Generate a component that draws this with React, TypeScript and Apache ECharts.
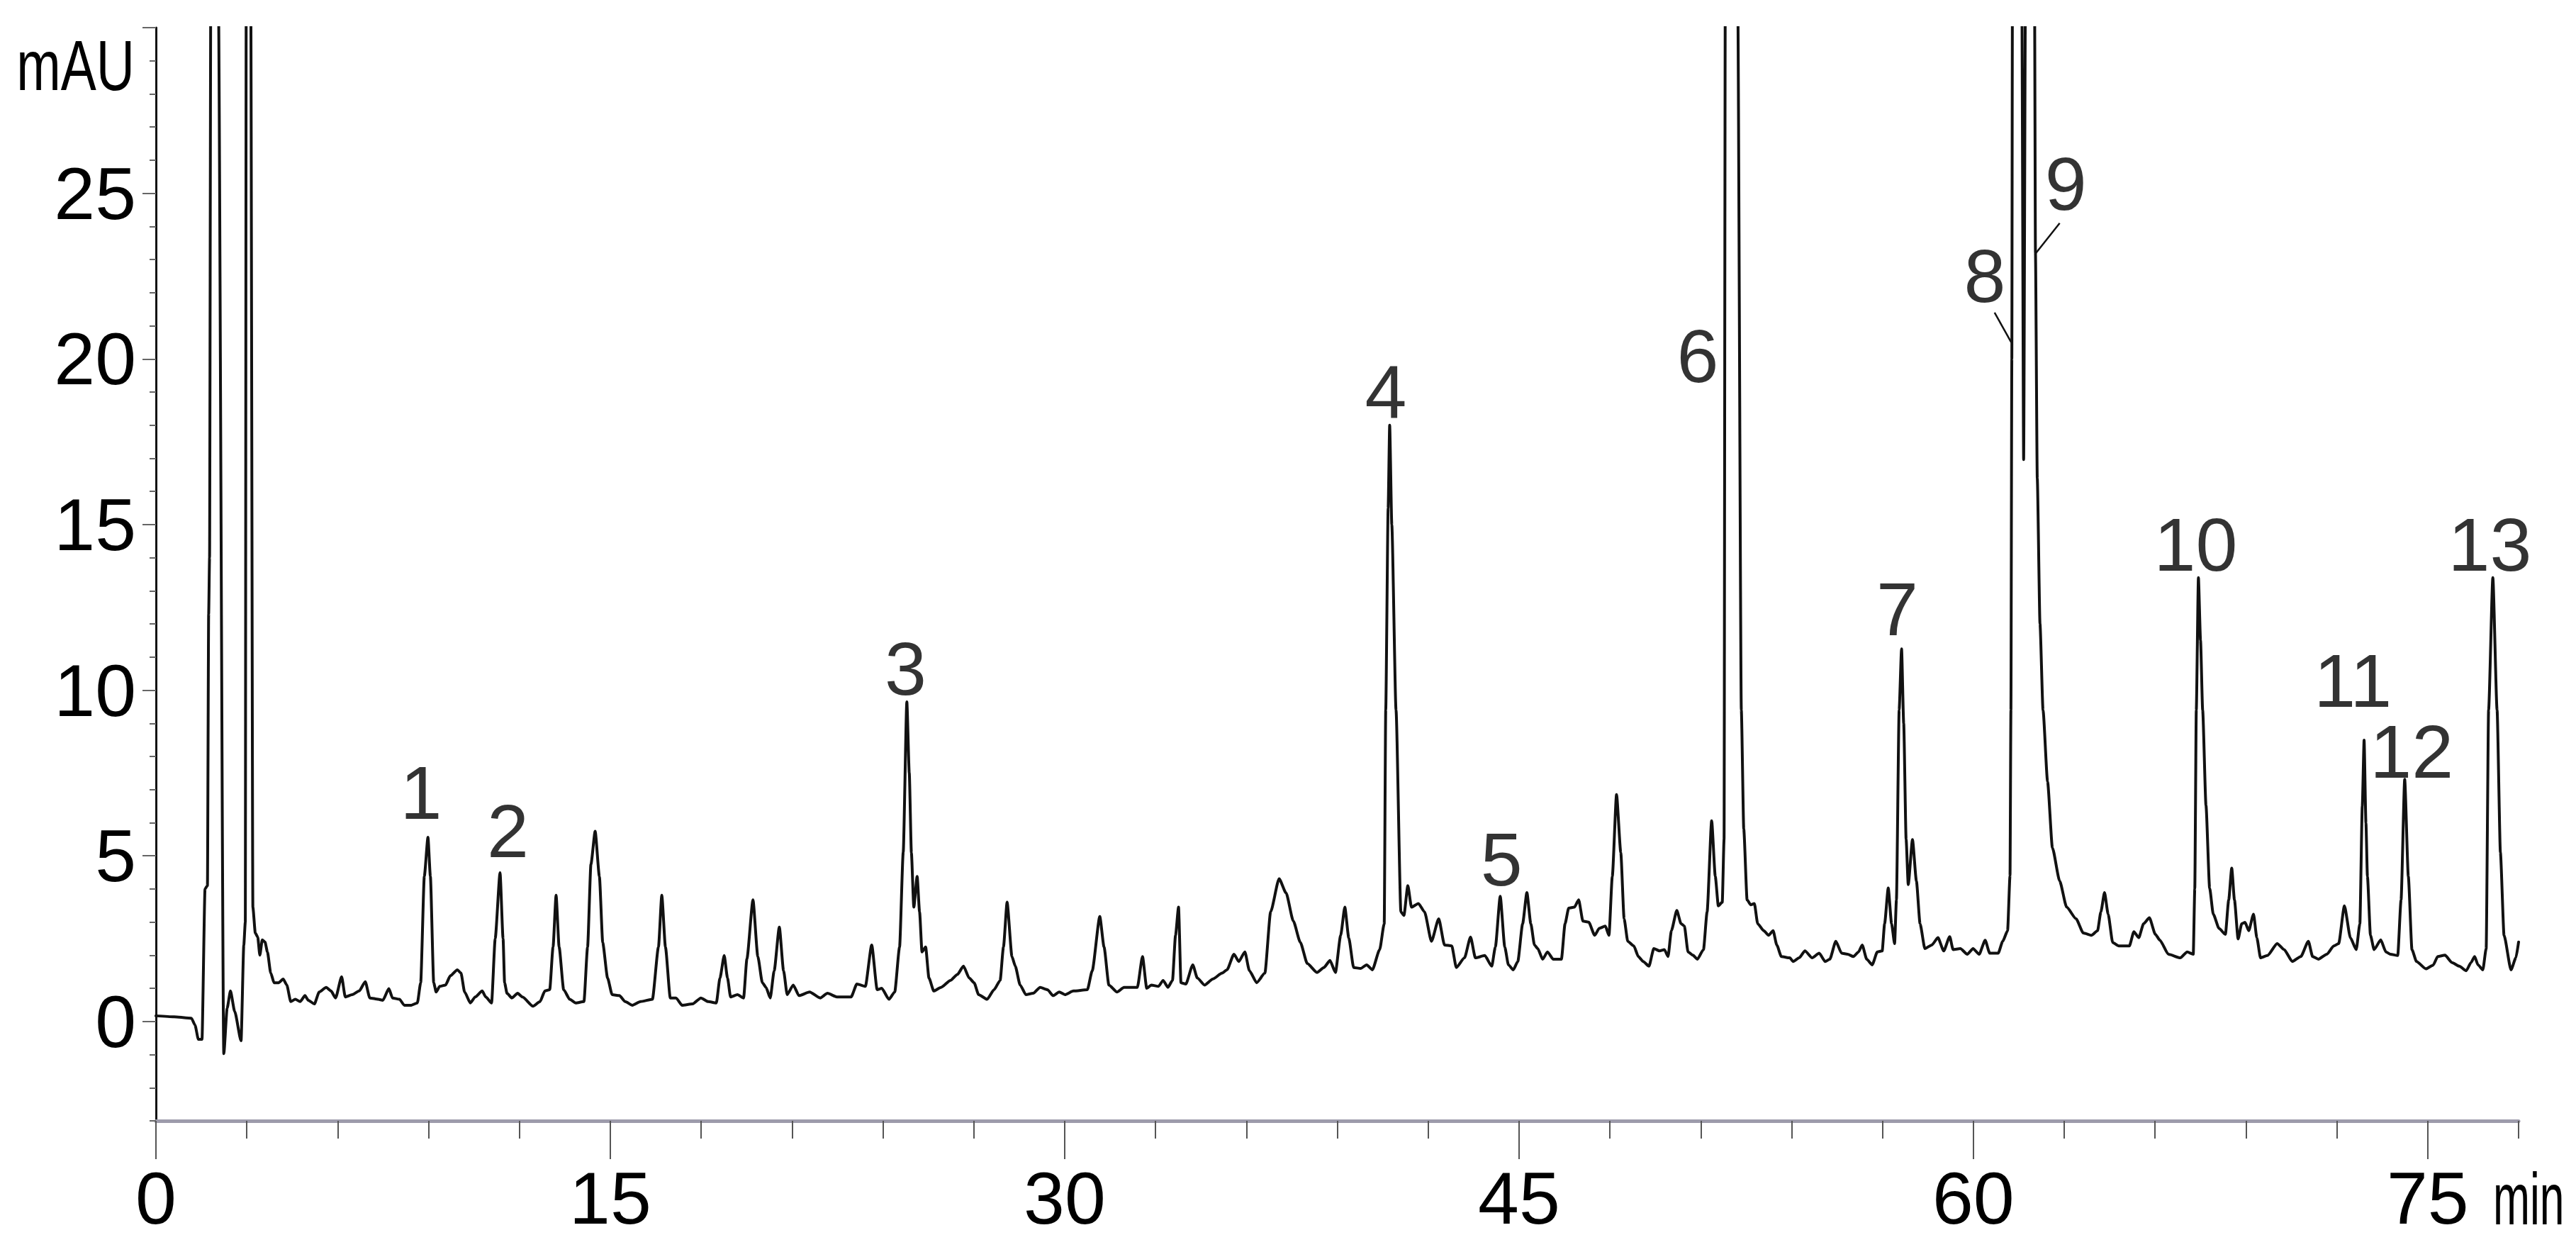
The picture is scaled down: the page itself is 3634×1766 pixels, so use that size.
import React, { useEffect, useRef } from "react";
import * as echarts from "echarts";

// ---- Chromatogram trace: [time (min), absorbance (mAU)] ----
const traceSolvent: [number, number][] = [
  [0, 0.17], [0.6, 0.14], [1.17, 0.1], [1.29, -0.11], [1.4, -0.54], [1.52, -0.54],
  [1.62, 4.0], [1.7, 4.1], [1.74, 12.3], [1.77, 14.0], [1.81, 31], [1.93, 75], [2.06, 31],
  [2.24, -0.97], [2.35, 0.4], [2.46, 0.92], [2.6, 0.3], [2.81, -0.58], [2.9, 2.3], [2.95, 3.0],
  [2.98, 31], [3.05, 60], [3.13, 31], [3.2, 3.45], [3.28, 2.67], [3.36, 2.55], [3.43, 2.0],
  [3.51, 2.46], [3.6, 2.4], [3.68, 2.1], [3.79, 1.46], [3.9, 1.17], [4.05, 1.17], [4.2, 1.28],
  [4.32, 1.1], [4.45, 0.6], [4.6, 0.67], [4.76, 0.6], [4.92, 0.78], [5.03, 0.64], [5.23, 0.53],
  [5.39, 0.89], [5.62, 1.03], [5.78, 0.92], [5.93, 0.71], [6.13, 1.35], [6.25, 0.74], [6.48, 0.81],
  [6.71, 0.92], [6.91, 1.2], [7.06, 0.71], [7.34, 0.67], [7.49, 0.64], [7.69, 0.99], [7.81, 0.71],
  [8.04, 0.67], [8.2, 0.49], [8.43, 0.49], [8.63, 0.56],
];

const trace9to23: [number, number][] = [
  [8.74, 1.17], [8.86, 4.38], [8.98, 5.56], [9.06, 4.38], [9.17, 1.17], [9.25, 0.89], [9.37, 1.06],
  [9.56, 1.1], [9.72, 1.38], [9.95, 1.56], [10.07, 1.46], [10.19, 0.89], [10.38, 0.56], [10.54, 0.74],
  [10.77, 0.92], [10.89, 0.74], [11.08, 0.56], [11.2, 2.5], [11.36, 4.49], [11.46, 2.5], [11.51, 1.17],
  [11.59, 0.85], [11.75, 0.71], [11.94, 0.85], [12.1, 0.74], [12.45, 0.46], [12.68, 0.6], [12.84, 0.92],
  [13.0, 0.96], [13.11, 2.25], [13.21, 3.81], [13.31, 2.25], [13.46, 0.96], [13.66, 0.67], [13.86, 0.56],
  [14.13, 0.6], [14.25, 2.25], [14.36, 4.74], [14.5, 5.74], [14.64, 4.38], [14.75, 2.38], [14.91, 1.31],
  [15.06, 0.81], [15.3, 0.78], [15.49, 0.6], [15.73, 0.49], [16.0, 0.6], [16.39, 0.67], [16.59, 2.25],
  [16.7, 3.81], [16.82, 2.25], [16.98, 0.71], [17.17, 0.71], [17.37, 0.49], [17.72, 0.53], [17.99, 0.71],
  [18.23, 0.6], [18.5, 0.56], [18.62, 1.31], [18.76, 1.99], [18.87, 1.31], [18.97, 0.74], [19.2, 0.81],
  [19.4, 0.71], [19.51, 1.89], [19.71, 3.67], [19.87, 1.96], [20.02, 1.17], [20.14, 1.03], [20.28, 0.71],
  [20.41, 1.53], [20.58, 2.85], [20.72, 1.53], [20.84, 0.81], [21.04, 1.1], [21.23, 0.78], [21.58, 0.89],
  [21.93, 0.71], [22.17, 0.85], [22.48, 0.74],
];

const trace23to41: [number, number][] = [
  [22.95, 0.74], [23.14, 1.13], [23.42, 1.06], [23.63, 2.31], [23.81, 0.96], [23.96, 1.0], [24.2, 0.67],
  [24.39, 0.89], [24.55, 2.25], [24.67, 5.1], [24.79, 9.65], [24.87, 7.5], [24.94, 5.1], [25.02, 3.45],
  [25.13, 4.38], [25.21, 3.31], [25.29, 2.1], [25.41, 2.25], [25.52, 1.31], [25.68, 0.92], [25.92, 1.03],
  [26.23, 1.24], [26.46, 1.42], [26.66, 1.67], [26.85, 1.31], [27.01, 1.17], [27.16, 0.81], [27.44, 0.67],
  [27.67, 0.96], [27.87, 1.24], [27.98, 2.25], [28.1, 3.6], [28.26, 1.96], [28.37, 1.67], [28.53, 1.1],
  [28.72, 0.81], [28.96, 0.85], [29.19, 1.03], [29.43, 0.96], [29.62, 0.78], [29.82, 0.89], [30.01, 0.81],
  [30.29, 0.92], [30.75, 0.96], [30.91, 1.53], [31.16, 3.17], [31.3, 2.25], [31.46, 1.1], [31.73, 0.89],
  [31.96, 1.03], [32.4, 1.03], [32.57, 1.96], [32.71, 1.0], [32.86, 1.1], [33.1, 1.06], [33.25, 1.24],
  [33.41, 1.03], [33.56, 1.24], [33.66, 2.6], [33.76, 3.45], [33.84, 1.17], [34.0, 1.13], [34.23, 1.71],
  [34.38, 1.31], [34.62, 1.1], [34.89, 1.28], [35.2, 1.46], [35.36, 1.56], [35.59, 2.03], [35.75, 1.81],
  [35.95, 2.1], [36.1, 1.53], [36.34, 1.17], [36.61, 1.46], [36.8, 3.31], [37.08, 4.31], [37.31, 3.88],
  [37.55, 3.03], [37.78, 2.39], [38.01, 1.75], [38.33, 1.48], [38.56, 1.63], [38.76, 1.84], [38.94, 1.48],
  [39.11, 2.59], [39.25, 3.45], [39.38, 2.52], [39.54, 1.63], [39.77, 1.6], [39.97, 1.71], [40.16, 1.56],
  [40.4, 2.17], [40.55, 2.95], [40.6, 9.4], [40.68, 15.5], [40.73, 18.0], [40.8, 15.0], [40.94, 9.4],
];

const trace41to57: [number, number][] = [
  [41.1, 3.31], [41.2, 3.2], [41.33, 4.1], [41.45, 3.45], [41.68, 3.56], [41.88, 3.31], [42.11, 2.42],
  [42.35, 3.1], [42.54, 2.31], [42.78, 2.28], [42.93, 1.63], [43.2, 1.92], [43.4, 2.55], [43.56, 1.92],
  [43.87, 1.99], [44.1, 1.67], [44.22, 2.25], [44.38, 3.78], [44.53, 2.25], [44.65, 1.71], [44.81, 1.56],
  [44.96, 1.81], [45.12, 2.95], [45.26, 3.89], [45.39, 2.95], [45.51, 2.31], [45.62, 2.2], [45.78, 1.88],
  [45.94, 2.1], [46.13, 1.88], [46.4, 1.88], [46.52, 2.95], [46.64, 3.42], [46.83, 3.45], [46.97, 3.67],
  [47.11, 3.03], [47.3, 3.0], [47.5, 2.6], [47.65, 2.81], [47.85, 2.88], [47.97, 2.6], [48.08, 4.38],
  [48.22, 6.85], [48.36, 5.1], [48.47, 3.1], [48.59, 2.42], [48.79, 2.28], [48.94, 1.96], [49.1, 1.81],
  [49.29, 1.67], [49.45, 2.2], [49.64, 2.13], [49.8, 2.17], [49.92, 1.96], [50.03, 2.74], [50.21, 3.35],
  [50.35, 2.95], [50.46, 2.88], [50.58, 2.1], [50.74, 2.0], [50.89, 1.88], [51.09, 2.17], [51.21, 3.31],
  [51.36, 6.06], [51.48, 4.38], [51.58, 3.49], [51.71, 3.6], [51.77, 5.5], [51.81, 31], [52.0, 70],
  [52.22, 31], [52.34, 9.4], [52.42, 5.81], [52.53, 3.67], [52.65, 3.52], [52.77, 3.56], [52.88, 2.95],
  [53.08, 2.74], [53.24, 2.6], [53.39, 2.74], [53.51, 2.31], [53.66, 1.96], [53.94, 1.92], [54.05, 1.81],
  [54.25, 1.92], [54.44, 2.13], [54.68, 1.92], [54.91, 2.06], [55.11, 1.81], [55.26, 1.88], [55.46, 2.42],
  [55.65, 2.06], [55.85, 2.03], [56.04, 1.96], [56.21, 2.1], [56.33, 2.31], [56.48, 1.88], [56.66, 1.71],
  [56.83, 2.1], [56.99, 2.13],
];

const trace57to67: [number, number][] = [
  [57.07, 2.95], [57.19, 4.03], [57.3, 2.95], [57.4, 2.35], [57.46, 3.67], [57.55, 9.4], [57.63, 11.25],
  [57.7, 9.0], [57.78, 5.5], [57.85, 4.13], [57.99, 5.49], [58.12, 4.24], [58.24, 2.95], [58.4, 2.2],
  [58.63, 2.31], [58.83, 2.53], [59.02, 2.13], [59.22, 2.56], [59.33, 2.17], [59.57, 2.2], [59.8, 2.03],
  [59.99, 2.2], [60.19, 2.03], [60.39, 2.45], [60.54, 2.06], [60.82, 2.06], [60.97, 2.42], [61.13, 2.74],
  [61.21, 4.4], [61.24, 9.4], [61.27, 20.0], [61.29, 31], [61.42, 60], [61.6, 31], [61.66, 16.96],
  [61.72, 31], [61.87, 70], [62.02, 31], [62.05, 23.2], [62.11, 16.4], [62.2, 12.0], [62.3, 9.4],
  [62.45, 7.24], [62.61, 5.24], [62.85, 4.24], [63.08, 3.45], [63.39, 3.1], [63.63, 2.67], [63.9, 2.6],
  [64.1, 2.74], [64.21, 3.31], [64.33, 3.89], [64.45, 3.24], [64.6, 2.38], [64.8, 2.28], [65.15, 2.28],
  [65.3, 2.71], [65.46, 2.53], [65.62, 2.95], [65.81, 3.13], [66.01, 2.63], [66.16, 2.45], [66.44, 2.03],
  [66.83, 1.92], [67.06, 2.1], [67.26, 2.03],
];

const trace67to78: [number, number][] = [
  [67.31, 4.0], [67.36, 9.4], [67.43, 13.4], [67.5, 11.5], [67.57, 9.4], [67.68, 6.52], [67.8, 4.03],
  [67.92, 3.24], [68.11, 2.81], [68.32, 2.63], [68.43, 3.67], [68.53, 4.63], [68.62, 3.67], [68.74, 2.49],
  [68.86, 2.95], [68.97, 2.99], [69.09, 2.74], [69.25, 3.24], [69.36, 2.52], [69.48, 1.92], [69.71, 1.99],
  [70.03, 2.35], [70.26, 2.17], [70.53, 1.81], [70.81, 1.96], [71.06, 2.42], [71.2, 1.96], [71.39, 1.88],
  [71.67, 2.03], [71.9, 2.28], [72.06, 2.35], [72.25, 3.49], [72.45, 2.52], [72.64, 2.17], [72.76, 2.95],
  [72.84, 6.5], [72.9, 8.49], [72.96, 6.0], [73.01, 4.38], [73.11, 2.6], [73.23, 2.17], [73.45, 2.46],
  [73.62, 2.1], [73.77, 2.03], [74.01, 1.99], [74.12, 3.67], [74.24, 7.31], [74.36, 4.38], [74.48, 2.17],
  [74.63, 1.81], [74.94, 1.59], [75.18, 1.7], [75.33, 1.96], [75.57, 2.0], [75.8, 1.78], [76.04, 1.67],
  [76.27, 1.53], [76.43, 1.78], [76.55, 1.96], [76.66, 1.71], [76.82, 1.56], [76.93, 2.2], [77.01, 9.4],
  [77.15, 13.4], [77.29, 9.4], [77.4, 5.1], [77.52, 2.6], [77.75, 1.56], [77.91, 1.92], [78.0, 2.4],
];

// ---- Peak numbers and where they are written (time, mAU) ----
const peakNames = ["1", "2", "3", "4", "5", "6", "7", "8", "9", "10", "11", "12", "13"];
const peakLabelTimes = [8.75, 11.62, 24.75, 40.6, 44.42, 50.9, 57.49, 60.38, 63.05, 67.34, 72.53, 74.47, 77.05];
const peakLabelValues = [6.9, 5.75, 10.65, 19.0, 4.9, 20.1, 12.46, 22.5, 25.3, 14.4, 10.3, 8.16, 14.4];

// ---- Leader lines for peaks 8 and 9 ----
const leader8: [number, number][] = [[60.7, 21.4], [61.25, 20.5]];
const leader9: [number, number][] = [[62.85, 24.1], [62.07, 23.2]];

// ---- Axis ticks ----
const xMajorTicks = [0, 15, 30, 45, 60, 75];
const yMajorTicks = [0, 5, 10, 15, 20, 25, 30];
const yLabelTicks = [0, 5, 10, 15, 20, 25];

const FONT = '"Liberation Sans", Arial, Helvetica, sans-serif';

export default function App() {
  const ref = useRef<HTMLDivElement>(null);

  useEffect(() => {
    if (!ref.current) return;
    const chart = echarts.init(ref.current, undefined, { renderer: "svg" });
    const trace = [
      ...traceSolvent,
      ...trace9to23,
      ...trace23to41,
      ...trace41to57,
      ...trace57to67,
      ...trace67to78,
    ];
    const option: any = {
      animation: false,
      backgroundColor: "#ffffff",
      grid: { left: 220, right: 81, top: 39, bottom: 185, containLabel: false, outerBoundsMode: "none" },
      xAxis: [
        {
          type: "value",
          min: 0,
          max: 78,
          interval: 3,
          position: "bottom",
          axisLine: { show: true, onZero: false, lineStyle: { color: "#9d9bab", width: 5 } },
          axisTick: { show: true, length: 25, lineStyle: { color: "#555555", width: 2 } },
          axisLabel: { show: false },
          splitLine: { show: false },
        },
        {
          type: "value",
          min: 0,
          max: 78,
          position: "bottom",
          axisLine: { show: false, onZero: false },
          axisTick: { show: true, length: 54, customValues: xMajorTicks, lineStyle: { color: "#555555", width: 2 } },
          axisLabel: {
            show: true,
            customValues: xMajorTicks,
            margin: 57,
            fontSize: 104,
            fontFamily: FONT,
            color: "#000000",
          },
          splitLine: { show: false },
        },
      ],
      yAxis: [
        {
          type: "value",
          min: -3,
          max: 30,
          interval: 1,
          position: "left",
          axisLine: { show: true, onZero: false, lineStyle: { color: "#111111", width: 3 } },
          axisTick: { show: true, length: 9, lineStyle: { color: "#666666", width: 2 } },
          axisLabel: { show: false },
          splitLine: { show: false },
        },
        {
          type: "value",
          min: -3,
          max: 30,
          position: "left",
          axisLine: { show: false, onZero: false },
          axisTick: { show: true, length: 19, customValues: yMajorTicks, lineStyle: { color: "#666666", width: 2 } },
          axisLabel: {
            show: true,
            customValues: yLabelTicks,
            margin: 28,
            fontSize: 104,
            fontFamily: FONT,
            color: "#000000",
          },
          splitLine: { show: false },
        },
      ],
      graphic: [
        {
          type: "text",
          x: 190,
          y: 92,
          scaleX: 0.75,
          silent: true,
          style: {
            text: "mAU",
            fontSize: 100,
            fontFamily: FONT,
            fill: "#000000",
            align: "right",
            textAlign: "right",
            verticalAlign: "middle",
            textVerticalAlign: "middle",
          },
        },
        {
          type: "text",
          x: 3517,
          y: 1691,
          scaleX: 0.6,
          silent: true,
          style: {
            text: "min",
            fontSize: 104,
            fontFamily: FONT,
            fill: "#000000",
            align: "left",
            textAlign: "left",
            verticalAlign: "middle",
            textVerticalAlign: "middle",
          },
        },
      ],
      series: [
        {
          type: "line",
          xAxisIndex: 0,
          yAxisIndex: 0,
          data: trace,
          symbol: "none",
          showSymbol: false,
          smooth: 0.2,
          smoothMonotone: "x",
          clip: true,
          silent: true,
          z: 3,
          lineStyle: { color: "#111111", width: 4, join: "round", cap: "round" },
        },
        {
          type: "line",
          xAxisIndex: 0,
          yAxisIndex: 0,
          data: leader8,
          symbol: "none",
          silent: true,
          lineStyle: { color: "#111111", width: 2.5 },
        },
        {
          type: "line",
          xAxisIndex: 0,
          yAxisIndex: 0,
          data: leader9,
          symbol: "none",
          silent: true,
          lineStyle: { color: "#111111", width: 2.5 },
        },
        {
          type: "scatter",
          xAxisIndex: 0,
          yAxisIndex: 0,
          symbolSize: 1,
          silent: true,
          itemStyle: { color: "rgba(0,0,0,0)" },
          label: {
            show: true,
            position: "inside",
            formatter: "{b}",
            fontSize: 106,
            fontFamily: FONT,
            color: "#000000",
          },
          data: peakNames.map((n, i) => ({ name: n, value: [peakLabelTimes[i], peakLabelValues[i]] })),
        },
      ],
    };
    chart.setOption(option);
    return () => chart.dispose();
  }, []);

  return (
    <div
      ref={ref}
      style={{ position: "fixed", left: 0, top: 0, width: "3634px", height: "1766px", background: "#ffffff" }}
    />
  );
}
